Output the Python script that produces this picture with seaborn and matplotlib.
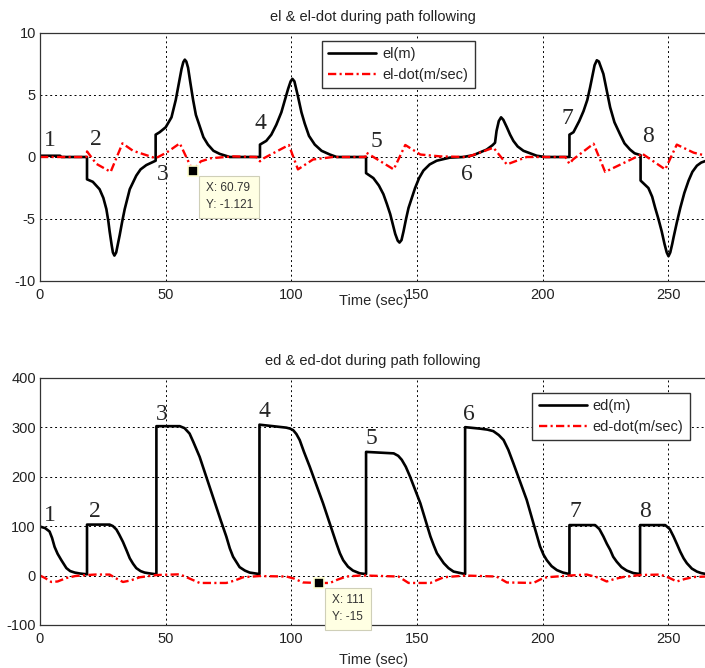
import matplotlib
matplotlib.use("Agg")
import matplotlib.pyplot as plt
import seaborn as sns

sns.set_style("white")
plt.rcParams['font.family'] = ['Liberation Sans', 'DejaVu Sans']
plt.rcParams['axes.unicode_minus'] = False

# ---------------- lateral error el and its rate ----------------
el_t = [0, 8, 8.5, 18.7,
        18.7, 21, 23.7, 25.2, 26.4, 27.2, 27.7, 28.5, 29.0, 29.6, 30.3, 31.0, 31.7, 32.7, 33.7,
        35.7, 38.3, 40, 42.3, 46,
        46, 47.6, 50, 52.3, 54.0, 55.3, 56.3, 57.0, 57.6, 58.2, 58.9, 59.8, 60.9, 62.0, 63.5,
        65, 66.8, 69, 71.5, 75.5, 87.5,
        87.5, 90, 92, 94, 96, 97.3, 98.7, 99.7, 100.4, 101.2, 102, 102.6, 104, 105.3, 107,
        109.3, 112, 115.3, 118, 129.7,
        129.7, 132.6, 134.8, 136.6, 138, 139.3, 140.4, 141.3, 142.3, 143, 143.8, 144.6, 145.6,
        146.6, 149.2, 150.8, 152.5, 155, 157.8, 163, 168.4,
        172.4, 177.7, 180, 181, 181.6, 182.5, 183.4, 184.3, 185.7, 187, 188.3, 190, 192.3,
        197.6, 201, 210.6,
        210.6, 212.2, 214.5, 216.2, 217.7, 218.8, 219.8, 220.6, 221.5, 222.3, 223.2, 224.1,
        225.5, 226.8, 228.5, 230.8, 232.5, 234.7, 236.5, 238.9,
        238.9, 242, 243.5, 244.7, 246, 247.3, 248.4, 249.3, 250, 250.7, 251.5, 252, 253.3,
        254.7, 256.3, 258, 259.5, 261.3, 263, 265]
el_v = [0.1, 0.1, 0.0, 0.0,
        -1.8, -2.0, -2.6, -3.3, -4.2, -5.2, -6.0, -7.1, -7.7, -7.95, -7.7, -7.0, -6.3, -5.2, -4.2,
        -2.6, -1.5, -1.0, -0.65, -0.3,
        1.8, 2.0, 2.4, 3.2, 4.6, 6.0, 7.1, 7.65, 7.85, 7.7, 7.2, 6.0, 4.6, 3.4, 2.5,
        1.6, 1.0, 0.5, 0.25, 0.0, 0.0,
        1.0, 1.3, 1.8, 2.6, 3.6, 4.5, 5.5, 6.1, 6.3, 6.1, 5.4, 4.9, 3.6, 2.7, 1.7,
        1.0, 0.5, 0.2, 0.0, 0.0,
        -1.3, -1.7, -2.3, -3.0, -3.8, -4.6, -5.5, -6.2, -6.75, -6.9, -6.7, -6.0, -5.0,
        -4.1, -2.5, -1.7, -1.1, -0.6, -0.3, -0.05, 0.0,
        0.15, 0.6, 0.95, 1.15, 2.1, 2.9, 3.2, 3.0, 2.4, 1.8, 1.3, 0.85, 0.5,
        0.1, 0.0, 0.0,
        1.8, 2.0, 2.9, 3.7, 4.6, 5.6, 6.6, 7.4, 7.8, 7.7, 7.2, 6.7,
        5.3, 4.0, 2.8, 1.8, 1.1, 0.6, 0.3, 0.15,
        -1.9, -2.5, -3.2, -4.1, -5.0, -6.0, -7.0, -7.7, -8.0, -7.7, -7.0, -6.5, -5.3,
        -4.1, -2.9, -1.9, -1.2, -0.7, -0.45, -0.3]

eldot_t = [0, 18.5, 18.7, 22.4, 28.1, 32.8, 37, 42.3, 46, 50.3, 55.6, 60.79, 64, 68, 76.8, 86,
           87.5, 89, 99, 102.6, 108.6, 116.6, 129.5, 129.8, 140.7, 145.3, 151.3, 159.2, 170,
           180.4, 185.7, 193.6, 209, 210.6, 212, 220.2, 224.8, 238.7, 239.3, 248.7, 253.3,
           260, 265]
eldot_v = [0.0, 0.0, 0.45, -0.55, -1.2, 1.1, 0.5, 0.15, -0.1, 0.35, 1.1, -1.121, -0.35, -0.1, 0.05, 0.0,
           -0.35, -0.1, 0.97, -1.0, -0.2, 0.0, 0.0, 0.35, -1.0, 0.97, 0.2, 0.05, 0.0,
           0.75, -0.6, 0.0, 0.0, -0.55, -0.2, 1.07, -1.2, 0.15, 0.3, -1.0, 1.0,
           0.35, 0.1]

# ---------------- along-track error ed and its rate ----------------
ed_t = [0, 2, 3.8, 4.8, 5.8, 7, 8.5, 10.5, 12, 13.8, 16, 18.7,
        18.7, 27.7, 29, 30.4, 31.5, 33, 34.5, 35.7, 37, 38.3, 40, 41.6, 44, 46.3,
        46.3, 55.6, 57.5, 59.5, 61, 63.5, 68.8, 72, 74.1, 75.5, 76.8, 79.4, 81.5, 83.4, 87.3,
        87.3, 92.7, 98, 99.5, 100.7, 102, 103.3, 105, 107.3, 112.6, 117.9, 119.3, 120.6,
        122.5, 124.5, 127.2, 129.7,
        129.7, 140.7, 142.5, 143.9, 145.5, 147.2, 151.3, 155.3, 156.7, 157.9, 160.6, 162.5,
        164.5, 169.1,
        169.1, 175, 178, 180.3, 182.5, 184.4, 186.3, 188.3, 193.6, 198.9, 200.3, 201.6, 203.5,
        205.6, 208, 210.6,
        210.6, 220.8, 222.5, 224.1, 225.5, 226.8, 228, 229.4, 231.3, 233.4, 236, 238.7,
        238.7, 248.7, 250.5, 252, 253.5, 254.7, 256, 257.3, 259.3, 261.3, 263, 265]
ed_v = [99, 96, 89, 76, 58, 44, 31, 15, 9, 6, 4, 2.5,
        103, 103, 100, 93, 83, 68, 50, 35, 24, 15, 9, 6, 4, 2.5,
        302, 302, 298, 287, 270, 240, 159, 110, 79, 55, 38, 17, 10, 6, 3,
        305, 302, 299, 297, 294, 286, 274, 250, 220, 146, 65, 45, 31,
        18, 10, 4.5, 3,
        250, 247, 242, 234, 220, 200, 146, 79, 60, 45, 25, 15,
        8, 3,
        300, 297, 295, 292, 284, 274, 254, 227, 153, 59, 42, 31, 19,
        11, 6, 3,
        102, 102, 94, 79, 64, 52, 38, 28, 17, 10, 5, 3,
        102, 102, 94, 79, 62, 48, 35, 25, 14, 8, 5, 3]

eddot_t = [0, 2, 4.5, 7, 10.5, 14, 18.7, 22, 27.7, 30, 33, 36, 39.7, 46.3, 55.6, 59, 63.5,
           74.1, 77.5, 80.8, 87.3, 98, 101, 104.6, 111, 115.3, 118.5, 121.9, 127.2, 129.7,
           142.6, 146.6, 155.3, 158, 160.6, 169.1, 181.6, 185.7, 196.3, 199, 201.6, 210.6,
           217.5, 222, 225.4, 228.5, 232, 238.7, 246.7, 250, 253.3, 256.5, 260, 265]
eddot_v = [0, -5, -13, -12, -5, -1, 1, 2, 2, -5, -13, -10, -3.5, 1, 2.5, -5, -15,
           -15, -10, -3.5, -1, -2, -6, -14, -15, -15, -8, -2, 0, 0,
           -2, -15, -15, -9, -3.5, 0, -2, -14, -15, -8, -3.5, 0,
           2, -4, -12, -7, -3, 1, 2, -4, -12, -7, -3, -2]

# waypoint numbers
wp_names = ["1", "2", "3", "4", "5", "6", "7", "8"]
wp_top_x = [4.0, 22.1, 48.8, 87.8, 133.7, 169.7, 209.9, 242.0]
wp_top_y = [1.37, 1.43, -1.45, 2.7, 1.23, -1.45, 3.1, 1.64]
wp_bot_x = [4.0, 21.8, 48.5, 89.1, 132.0, 170.4, 212.9, 240.7]
wp_bot_y = [122, 129, 326, 331, 277, 326, 129, 130]

# data-cursor readouts
tip_top = (60.79, -1.121)
tip_bot = (111, -15)

x_ticks = [0, 50, 100, 150, 200, 250]
top_yticks = [-10, -5, 0, 5, 10]
bot_yticks = [-100, 0, 100, 200, 300, 400]

RED_DASHDOT = (0, (3.5, 1.4, 0.9, 1.4))
FS = 10.5

fig = plt.figure(figsize=(7.05, 6.68), dpi=100)
ax1 = fig.add_axes([40 / 705, 1 - 281 / 668, 666.2 / 705, 248 / 668])
ax2 = fig.add_axes([40 / 705, 1 - 625 / 668, 666.2 / 705, 247.3 / 668])


def style_axes(ax, yticks, ylim, xlabel_pad):
    ax.set_xlim(0, 265)
    ax.set_ylim(*ylim)
    ax.set_xticks(x_ticks)
    ax.set_yticks(yticks)
    ax.grid(True, color="black", linestyle=(0, (2, 3)), linewidth=0.7)
    ax.tick_params(direction="in", length=4, width=0.8, labelsize=FS,
                   colors="#222222", pad=5)
    ax.tick_params(axis="y", pad=3)
    for side in ["left", "top", "bottom"]:
        ax.spines[side].set_color("#333333")
        ax.spines[side].set_linewidth(0.9)
    ax.spines["right"].set_visible(False)
    ax.set_xlabel("Time (sec)", fontsize=FS, labelpad=xlabel_pad)
    ax.set_ylabel("")


def datatip(ax, tip):
    x, y = tip
    ax.plot([x], [y], marker="s", ms=7, mfc="black", mec="#ffffd0", mew=1.2,
            zorder=6, clip_on=False)
    ax.annotate(f"X: {x:g}\nY: {y:g}", xy=(x, y), xytext=(9.2, -8.2),
                textcoords="offset points", ha="left", va="top", fontsize=8.5,
                linespacing=1.55, color="#333333", annotation_clip=False, zorder=7,
                bbox=dict(boxstyle="square,pad=0.55", fc="#ffffe3", ec="#cfcfb8", lw=0.8))


# top panel
sns.lineplot(x=el_t, y=el_v, ax=ax1, color="black", linewidth=1.9,
             estimator=None, sort=False, label="el(m)")
sns.lineplot(x=eldot_t, y=eldot_v, ax=ax1, color="red", linewidth=1.7,
             linestyle=RED_DASHDOT, estimator=None, sort=False, label="el-dot(m/sec)")
style_axes(ax1, top_yticks, (-10, 10), xlabel_pad=-6)
ax1.set_title("el & el-dot during path following", fontsize=FS, pad=9, color="#222222")
for name, x, y in zip(wp_names, wp_top_x, wp_top_y):
    ax1.text(x, y, name, fontsize=17, family="Liberation Serif", ha="center", va="center")
datatip(ax1, tip_top)
ax1.legend(loc="upper left", bbox_to_anchor=(0.423, 0.969), borderaxespad=0,
           frameon=True, fancybox=False, edgecolor="#333333", framealpha=1,
           fontsize=FS, handlelength=3.3, handletextpad=0.4, borderpad=0.45,
           labelspacing=0.45)

# bottom panel
sns.lineplot(x=ed_t, y=ed_v, ax=ax2, color="black", linewidth=1.9,
             estimator=None, sort=False, label="ed(m)")
sns.lineplot(x=eddot_t, y=eddot_v, ax=ax2, color="red", linewidth=1.7,
             linestyle=RED_DASHDOT, estimator=None, sort=False, label="ed-dot(m/sec)")
style_axes(ax2, bot_yticks, (-100, 400), xlabel_pad=5)
ax2.set_title("ed & ed-dot during path following", fontsize=FS, pad=9, color="#222222")
for name, x, y in zip(wp_names, wp_bot_x, wp_bot_y):
    ax2.text(x, y, name, fontsize=17, family="Liberation Serif", ha="center", va="center")
datatip(ax2, tip_bot)
ax2.legend(loc="upper left", bbox_to_anchor=(0.739, 0.939), borderaxespad=0,
           frameon=True, fancybox=False, edgecolor="#333333", framealpha=1,
           fontsize=FS, handlelength=3.3, handletextpad=0.4, borderpad=0.45,
           labelspacing=0.45)

fig.savefig("out.png", dpi=100)
